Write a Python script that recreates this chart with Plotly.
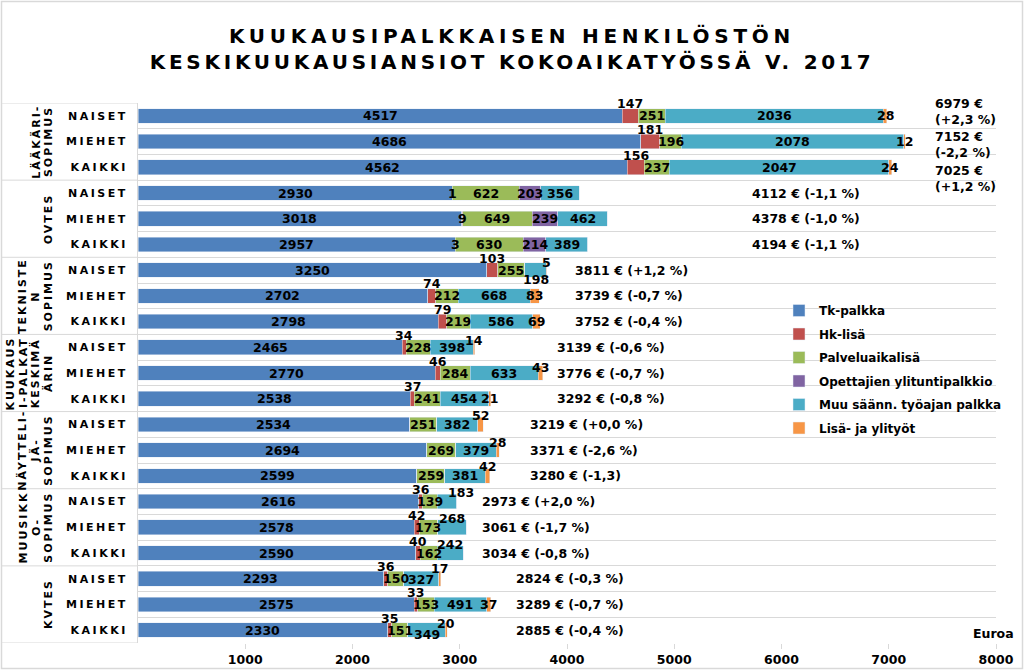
import plotly.graph_objects as go

# Sopimusryhmät (ylhäältä alas) ja rivit
sopimukset = ['LÄÄKÄRI-<br>SOPIMUS', 'OVTES', 'TEKNISTE<br>N<br>SOPIMUS',
              'KUUKAUS<br>I-PALKAT<br>KESKIMÄ<br>ÄRIN', 'NÄYTTELI-<br>JÄ-<br>SOPIMUS',
              'MUUSIKK<br>O-<br>SOPIMUS', 'KVTES']
ryhmat = ['NAISET', 'MIEHET', 'KAIKKI']

# Palkkaerät, euroa/kk
tk_palkka = [4517, 4686, 4562, 2930, 3018, 2957, 3250, 2702, 2798, 2465, 2770,
             2538, 2534, 2694, 2599, 2616, 2578, 2590, 2293, 2575, 2330]
hk_lisa = [147, 181, 156, 1, 9, 3, 103, 74, 79, 34, 46,
           37, 0, 0, 0, 36, 42, 40, 36, 33, 35]
palveluaikalisa = [251, 196, 237, 622, 649, 630, 255, 212, 219, 228, 284,
                   241, 251, 269, 259, 139, 173, 162, 150, 153, 151]
opettajien_ylituntipalkkio = [0, 0, 0, 203, 239, 214, 0, 0, 0, 0, 0,
                              0, 0, 0, 0, 0, 0, 0, 0, 0, 0]
muu_saann = [2036, 2078, 2047, 356, 462, 389, 198, 668, 586, 398, 633,
             454, 382, 379, 381, 183, 268, 242, 327, 491, 349]
lisa_ja_ylityot = [28, 12, 24, 0, 0, 0, 5, 83, 69, 14, 43,
                   21, 52, 28, 42, 0, 0, 0, 17, 37, 20]

summat = ['6979 €<br>(+2,3 %)', '7152 €<br>(-2,2 %)', '7025 €<br>(+1,2 %)',
          '4112 € (-1,1 %)', '4378 € (-1,0 %)', '4194 € (-1,1 %)',
          '3811 € (+1,2 %)', '3739 € (-0,7 %)', '3752 € (-0,4 %)',
          '3139 € (-0,6 %)', '3776 € (-0,7 %)', '3292 € (-0,8 %)',
          '3219 € (+0,0 %)', '3371 € (-2,6 %)', '3280 € (-1,3)',
          '2973 € (+2,0 %)', '3061 € (-1,7 %)', '3034 € (-0,8 %)',
          '2824 € (-0,3 %)', '3289 € (-0,7 %)', '2885 € (-0,4 %)']

sarjat = ['Tk-palkka', 'Hk-lisä', 'Palveluaikalisä', 'Opettajien ylituntipalkkio',
          'Muu säänn. työajan palkka', 'Lisä- ja ylityöt']
arvot = [tk_palkka, hk_lisa, palveluaikalisa, opettajien_ylituntipalkkio,
         muu_saann, lisa_ja_ylityot]
varit = ['#4F81BD', '#C0504D', '#9BBB59', '#8064A2', '#4BACC6', '#F79646']

# summatekstien alkukohta (euroina) sopimuksittain ja pystysiirrot (px)
summa_x = [7410, 5705, 4055, 3890, 3635, 3190, 3505]
summa_siirto = {0: 4, 1: -3, 2: -11}

# arvotekstien siirrot (px), sarja -> rivi
siirrot = {
    1: {i: 12 for i in [0, 1, 2, 6, 7, 8, 9, 10, 11, 15, 16, 17, 18, 19, 20]},
    4: {6: -9, 15: 9, 16: 9, 17: 9, 18: -1, 20: -4},
    5: {6: 8, 9: 7, 10: 6, 12: 9, 13: 8, 14: 9, 18: 10, 20: 7},
}
vaakasiirrot = {(4, 15): 14}

L, R, T, B = 138, 28, 103, 27
W, H = 1024, 670
PW, PH = W - L - R, H - T - B
FONT = 'DejaVu Sans'


def harva(teksti, vali):
    return f'<span style="letter-spacing:{vali}px">{teksti}</span>'


rivit = list(range(len(tk_palkka)))
nimet = [r for _ in sopimukset for r in ryhmat]

fig = go.Figure()
for nimi, data, vari in zip(sarjat, arvot, varit):
    fig.add_trace(go.Bar(
        y=rivit, x=data, name=nimi, orientation='h', marker_color=vari,
        width=0.57, legendgroup=nimi, textposition='none',
        hovertemplate=nimi + ': %{x}<extra></extra>'))

annot = []
alku = [0] * len(rivit)
for j, data in enumerate(arvot):
    for i, v in enumerate(data):
        if v:
            annot.append(dict(
                x=alku[i] + v / 2, y=i, text=str(v), showarrow=False,
                yshift=siirrot.get(j, {}).get(i, 0),
                xshift=vaakasiirrot.get((j, i), 0),
                font=dict(family=FONT, size=12.5, color='black', weight='bold')))
        alku[i] += v

for i, s in enumerate(summat):
    annot.append(dict(
        x=summa_x[i // 3], y=i, text=s, showarrow=False, xanchor='left',
        align='left', yshift=summa_siirto.get(i, 0),
        font=dict(family=FONT, size=12.5, color='black', weight='bold')))

# sopimusten nimet pystyyn, rivi kerrallaan
for g, s in enumerate(sopimukset):
    osat = s.split('<br>')
    for k, osa in enumerate(osat):
        annot.append(dict(
            x=-(L - 57) / PW, xref='paper', y=g * 3 + 1, text=harva(osa, 2),
            xshift=-(len(osat) - 1 - k) * 12.7,
            textangle=-90, showarrow=False, xanchor='right',
            font=dict(family=FONT, size=11, color='black', weight='bold')))

annot.append(dict(x=1 + 20 / PW, xref='paper', y=0, yref='paper', text='Euroa',
                  xanchor='right', yanchor='bottom', showarrow=False,
                  font=dict(family=FONT, size=12.5, color='black', weight='bold')))

shapes = []
for g in range(len(sopimukset) + 1):
    shapes.append(dict(type='line', xref='paper', yref='y', x0=-(L - 1) / PW, x1=0,
                       y0=g * 3 - 0.5, y1=g * 3 - 0.5,
                       line=dict(color='#D9D9D9', width=1)))
shapes.append(dict(type='rect', xref='paper', yref='paper',
                   x0=-(L - 1.5) / PW, x1=1 + (R - 1.5) / PW,
                   y0=-(B - 1.5) / PH, y1=1 + (T - 1.5) / PH,
                   line=dict(color='#D9D9D9', width=1.5)))

otsikko = (harva('KUUKAUSIPALKKAISEN HENKILÖSTÖN', 4.75) + '<br>'
           + harva('KESKIKUUKAUSIANSIOT KOKOAIKATYÖSSÄ V. 2017', 3.75))

fig.update_layout(
    width=W, height=H, barmode='stack',
    margin=dict(l=L, r=R, t=T, b=B, autoexpand=False),
    plot_bgcolor='white', paper_bgcolor='white',
    title=dict(text=otsikko,
               x=0.5, xref='container', xanchor='center',
               y=1 - 43 / H, yref='container', yanchor='middle',
               font=dict(family=FONT, size=20, color='black', weight='bold')),
    xaxis=dict(range=[0, 8000], tickvals=list(range(1000, 8001, 1000)),
               showgrid=False, zeroline=False, ticks='outside', ticklen=5,
               tickcolor='#D9D9D9', automargin=False,
               tickfont=dict(family=FONT, size=12.5, color='black', weight='bold')),
    yaxis=dict(range=[len(rivit) - 0.5, -0.5], tickvals=rivit,
               ticktext=[harva(n, 2.5) for n in nimet], showgrid=False,
               zeroline=False, showline=True, linecolor='#D9D9D9', ticks='',
               ticklabelstandoff=7, automargin=False,
               tickfont=dict(family=FONT, size=11, color='black', weight='bold'),
               minor=dict(tick0=0.5, dtick=1, showgrid=True, gridcolor='#D9D9D9',
                          ticks='')),
    legend=dict(x=779 / W, xref='container', y=1 - 296 / H, yref='container',
                xanchor='left', yanchor='top',
                bgcolor='rgba(0,0,0,0)', tracegroupgap=4.5, traceorder='grouped',
                font=dict(family=FONT, size=12, color='black', weight='bold')),
    annotations=annot, shapes=shapes, bargap=0.4)

fig.write_html('out.html', config={'displayModeBar': False},
               post_script="document.body.style.margin='0px';")
